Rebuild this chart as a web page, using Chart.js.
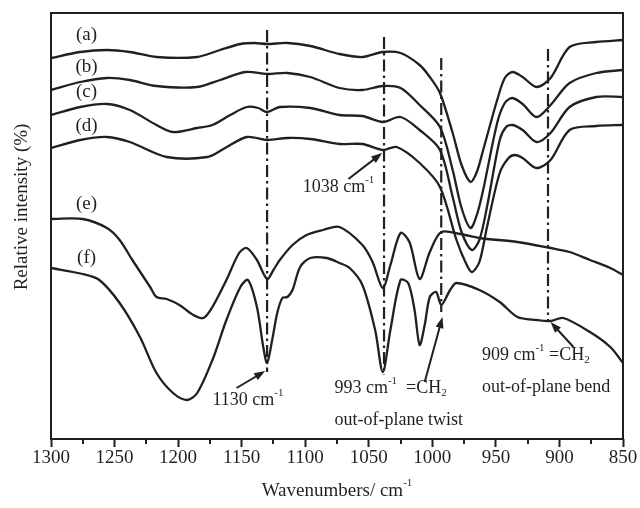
<!DOCTYPE html>
<html>
<head>
<meta charset="utf-8">
<script src="https://cdn.jsdelivr.net/npm/chart.js@4.4.1/dist/chart.umd.min.js"></script>
<style>
  html, body { margin: 0; padding: 0; background: #fff; }
  canvas { display: block; }
</style>
</head>
<body>
<canvas id="ftirChart" width="640" height="508"></canvas>
<script>
// Spectra (a)-(f): wavenumber (cm-1) and relative intensity (arbitrary units, offset stacked)
const wnA = [1300,1277,1256,1238,1217,1185,1167,1151,1140,1130,1114,1096,1073,1055,1039,1025,1010,1002,994,984,977,970,965,960,949,943,937,929,918,907,892,871,850];
const intA = [380,386,388,386,381,381,388,394,395,394,395,392,384,381,386,385,373,361,345,305,273,256,266,288,338,360,366,361,351,360,391,396,398];

const wnB = [1300,1277,1256,1238,1217,1185,1167,1147,1130,1114,1096,1073,1055,1039,1025,1010,994,984,977,970,965,960,949,943,937,929,918,907,892,871,850];
const intB = [348,356,360,358,352,351,358,366,364,365,361,350,348,352,350,333,311,268,230,210,223,248,315,335,340,334,321,333,355,365,368];

const wnC = [1300,1277,1256,1238,1217,1204,1185,1173,1159,1146,1137,1130,1120,1096,1073,1055,1039,1025,1010,994,984,977,969,963,957,947,942,937,929,918,907,892,871,850];
const intC = [323,331,334,328,313,306,310,313,323,331,330,326,331,330,323,322,316,321,308,288,241,206,188,198,231,298,311,313,308,296,305,331,341,341];

const wnD = [1300,1277,1256,1238,1209,1177,1163,1146,1130,1114,1096,1073,1055,1039,1028,1010,994,981,974,969,963,957,947,940,935,929,918,907,892,871,850];
const intD = [290,298,301,296,281,281,290,301,298,300,299,294,294,288,291,275,251,198,176,166,176,211,265,280,283,280,270,278,308,312,313];

const wnE = [1300,1275,1256,1246,1236,1222,1217,1209,1199,1188,1180,1173,1162,1152,1146,1138,1130,1125,1120,1110,1099,1086,1073,1055,1047,1039,1033,1025,1018,1010,1002,993,978,963,933,907,892,876,860,850];
const intE = [219,219,210,198,178,151,141,139,133,123,120,131,158,185,190,178,159,168,178,193,203,208,211,193,176,150,173,205,196,159,186,206,204,200,196,190,186,178,170,163];

const wnF = [1300,1275,1262,1246,1230,1217,1204,1193,1185,1173,1162,1151,1145,1138,1133,1130,1126,1122,1118,1114,1110,1104,1096,1083,1073,1065,1055,1045,1039,1033,1025,1019,1014,1010,1006,1002,997,993,986,981,963,947,933,918,907,897,876,860,850];
const intF = [170,164,158,135,101,65,45,38,45,78,118,151,158,131,91,75,98,125,140,141,148,171,180,180,175,170,153,108,66,108,158,155,128,93,113,141,146,133,148,155,148,136,121,118,117,120,106,91,75];

const seriesNames = ['(a)', '(b)', '(c)', '(d)', '(e)', '(f)'];

// marked bands (dash-dot guide lines)
const bandWn = [1130, 1038, 993, 909];
const bandTop = [408, 401, 380, 389];
const bandBottom = [66, 63, 126, 116];

const xTicks = [1300, 1250, 1200, 1150, 1100, 1050, 1000, 950, 900, 850];

const ink = '#231f20';
const serif = '"Liberation Serif", "Times New Roman", serif';

function toPoints(xs, ys) {
    return xs.map(function(x, i) { return { x: x, y: ys[i] }; });
}

const curves = [[wnA, intA], [wnB, intB], [wnC, intC], [wnD, intD], [wnE, intE], [wnF, intF]];

const datasets = curves.map(function(c, i) {
    return {
        label: seriesNames[i],
        data: toPoints(c[0], c[1]),
        borderColor: ink,
        borderWidth: 2.3,
        pointRadius: 0,
        fill: false,
        tension: 0.3
    };
});

bandWn.forEach(function(w, i) {
    datasets.push({
        label: w + ' cm-1',
        data: [{ x: w, y: bandTop[i] }, { x: w, y: bandBottom[i] }],
        borderColor: ink,
        borderWidth: 2.2,
        borderDash: [12, 4, 2.5, 4],
        pointRadius: 0,
        fill: false
    });
});

// text labels, placed in data coordinates
const curveLabelPos = [[1272, 403], [1272, 371], [1272, 346], [1272, 312], [1272, 234], [1272, 180]];

const notes = [
    { lines: [[['1038 cm', ''], ['-1', 'sup']]], at: [1102, 251], from: [1066, 259], to: [1039.5, 285] },
    { lines: [[['1130 cm', ''], ['-1', 'sup']]], at: [1173, 38], from: [1154, 50], to: [1131.5, 67] },
    { lines: [[['993 cm', ''], ['-1', 'sup'], ['  =CH', ''], ['2', 'sub']], [['out-of-plane twist', '']]], at: [1077, 50], from: [1006, 56], to: [992, 121] },
    { lines: [[['909 cm', ''], ['-1', 'sup'], [' =CH', ''], ['2', 'sub']], [['out-of-plane bend', '']]], at: [961, 83], from: [889, 91], to: [907, 116] }
];

function richText(ctx, parts, x, y, size) {
    let cx = x;
    parts.forEach(function(p) {
        const small = p[1] === 'sup' || p[1] === 'sub';
        ctx.font = (small ? Math.round(size * 0.6) : size) + 'px ' + serif;
        const dy = p[1] === 'sup' ? -size * 0.4 : (p[1] === 'sub' ? size * 0.3 : 0);
        ctx.fillText(p[0], cx, y + dy);
        cx += ctx.measureText(p[0]).width;
    });
    return cx - x;
}

function arrow(ctx, x1, y1, x2, y2) {
    const ang = Math.atan2(y2 - y1, x2 - x1);
    const len = 11, half = 4;
    ctx.beginPath();
    ctx.moveTo(x1, y1);
    ctx.lineTo(x2 - Math.cos(ang) * len * 0.8, y2 - Math.sin(ang) * len * 0.8);
    ctx.lineWidth = 2;
    ctx.stroke();
    ctx.beginPath();
    ctx.moveTo(x2, y2);
    ctx.lineTo(x2 - Math.cos(ang) * len - Math.sin(ang) * half, y2 - Math.sin(ang) * len + Math.cos(ang) * half);
    ctx.lineTo(x2 - Math.cos(ang) * len + Math.sin(ang) * half, y2 - Math.sin(ang) * len - Math.cos(ang) * half);
    ctx.closePath();
    ctx.fill();
}

const overlay = {
    id: 'overlay',
    afterDraw: function(chart) {
        const ctx = chart.ctx;
        const a = chart.chartArea;
        const xs = chart.scales.x, ys = chart.scales.y;
        ctx.save();
        ctx.strokeStyle = ink;
        ctx.fillStyle = ink;

        // frame
        ctx.lineWidth = 2;
        ctx.strokeRect(a.left, a.top, a.right - a.left, a.bottom - a.top);

        // minor ticks between labelled ones
        for (let w = 875; w < 1300; w += 50) {
            const px = Math.round(xs.getPixelForValue(w));
            ctx.beginPath();
            ctx.moveTo(px, a.bottom);
            ctx.lineTo(px, a.bottom + 5);
            ctx.stroke();
        }

        ctx.textBaseline = 'middle';
        ctx.textAlign = 'left';

        // curve names
        ctx.font = '19px ' + serif;
        ctx.textAlign = 'center';
        seriesNames.forEach(function(n, i) {
            ctx.fillText(n, xs.getPixelForValue(curveLabelPos[i][0]), ys.getPixelForValue(curveLabelPos[i][1]));
        });
        ctx.textAlign = 'left';

        // band annotations
        notes.forEach(function(n) {
            const tx = xs.getPixelForValue(n.at[0]);
            let ty = ys.getPixelForValue(n.at[1]);
            n.lines.forEach(function(parts) {
                richText(ctx, parts, tx, ty, 18);
                ty += 32;
            });
            arrow(ctx, xs.getPixelForValue(n.from[0]), ys.getPixelForValue(n.from[1]),
                xs.getPixelForValue(n.to[0]), ys.getPixelForValue(n.to[1]));
        });

        // axis titles
        const xTitle = [['Wavenumbers/ cm', ''], ['-1', 'sup']];
        ctx.globalAlpha = 0;
        const w = richText(ctx, xTitle, 0, 0, 19);
        ctx.globalAlpha = 1;
        richText(ctx, xTitle, (a.left + a.right) / 2 - w / 2, 491, 19);

        ctx.translate(22, 207);
        ctx.rotate(-Math.PI / 2);
        ctx.textAlign = 'center';
        ctx.font = '19px ' + serif;
        ctx.fillText('Relative intensity (%)', 0, 0);
        ctx.restore();
    }
};

new Chart(document.getElementById('ftirChart'), {
    type: 'line',
    data: { datasets: datasets },
    options: {
        responsive: false,
        animation: false,
        devicePixelRatio: 1,
        layout: { padding: { top: 13, right: 17, left: 0, bottom: 0 } },
        plugins: {
            legend: { display: false },
            tooltip: { enabled: false }
        },
        scales: {
            x: {
                type: 'linear',
                reverse: true,
                min: 850,
                max: 1300,
                afterBuildTicks: function(s) { s.ticks = xTicks.map(function(v) { return { value: v }; }); },
                afterFit: function(s) { s.height = 69; },
                ticks: {
                    autoSkip: false,
                    maxRotation: 0,
                    padding: 0,
                    color: ink,
                    font: { family: serif, size: 19 },
                    callback: function(v) { return String(v); }
                },
                grid: { drawOnChartArea: false, drawTicks: true, tickLength: 8, tickWidth: 2, tickColor: ink },
                border: { display: false }
            },
            y: {
                min: -1,
                max: 425,
                afterFit: function(s) { s.width = 51; },
                ticks: { display: false },
                grid: { display: false },
                border: { display: false }
            }
        }
    },
    plugins: [overlay]
});
</script>
</body>
</html>
